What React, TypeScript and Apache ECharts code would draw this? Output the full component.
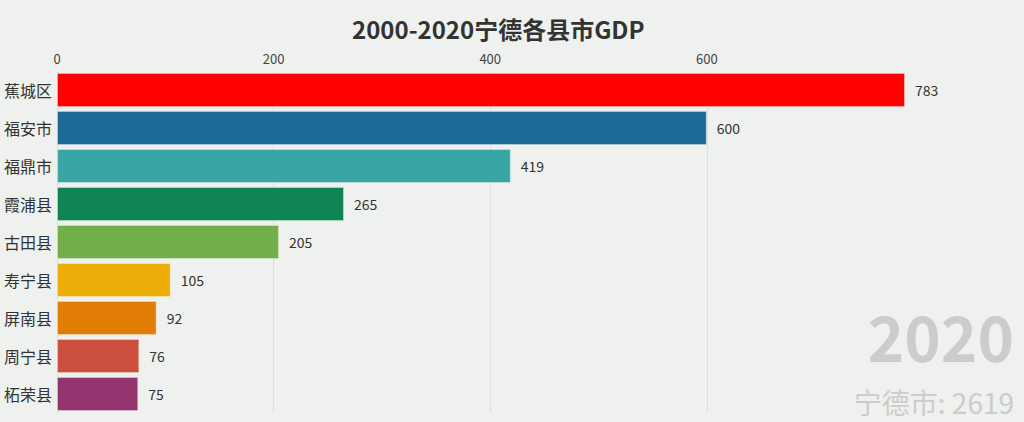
import React, { useEffect, useRef } from "react";
import * as echarts from "echarts";

const categories = ["蕉城区", "福安市", "福鼎市", "霞浦县", "古田县", "寿宁县", "屏南县", "周宁县", "柘荣县"];
const values = [783, 600, 419, 265, 205, 105, 92, 76, 75];
const barColors = ["#ff0000", "#1d6996", "#38a6a5", "#0f8554", "#73af48", "#edad08", "#e17c05", "#cc503e", "#94346e"];
const titleText = "2000-2020宁德各县市GDP";
const yearText = "2020";
const totalText = "宁德市: 2619";

export default function App() {
  const ref = useRef<HTMLDivElement>(null);
  useEffect(() => {
    document.body.style.margin = "0";
    const chart = echarts.init(ref.current!, null, { renderer: "svg" });
    const font = "'Noto Sans CJK SC', 'Noto Sans', sans-serif";
    const grid = "#dcdfdb";
    chart.setOption({
      animation: false,
      backgroundColor: "#eef1ed",
      textStyle: { fontFamily: font },
      title: {
        text: titleText,
        left: 347,
        top: 11,
        textStyle: { fontSize: 24, fontWeight: "bold", color: "#333", fontFamily: font },
      },
      grid: { left: 57, right: 119, top: 71, bottom: 9 },
      xAxis: {
        type: "value",
        position: "top",
        min: 0,
        max: "dataMax",
        interval: 200,
        axisLine: { show: false },
        axisTick: { show: false },
        axisLabel: { color: "#444", fontSize: 13, margin: 6, showMaxLabel: false },
        splitLine: { show: true, lineStyle: { color: [grid, grid, grid, grid, "rgba(0,0,0,0)"], width: 1 } },
      },
      yAxis: {
        type: "category",
        inverse: true,
        data: categories,
        axisLine: { show: false },
        axisTick: { show: false },
        axisLabel: { color: "#333", fontSize: 16, margin: 5 },
      },
      series: [
        {
          type: "bar",
          barCategoryGap: "10%",
          data: values.map((v, i) => ({
            value: v,
            itemStyle: { color: barColors[i], borderColor: "rgba(255,255,255,0.35)", borderWidth: 1 },
          })),
          label: { show: true, position: "right", distance: 10, color: "#333", fontSize: 14 },
        },
      ],
      graphic: [
        {
          type: "text",
          right: 10,
          top: 304,
          style: { text: yearText, fontSize: 62, lineHeight: 50, fontWeight: "bold", fill: "#cccccc", fontFamily: font },
        },
        {
          type: "text",
          right: 10,
          top: 388,
          style: { text: totalText, fontSize: 28, lineHeight: 26, fill: "#cccccc", fontFamily: font },
        },
      ],
    });
    return () => chart.dispose();
  }, []);
  return <div ref={ref} style={{ width: 1024, height: 422 }} />;
}
